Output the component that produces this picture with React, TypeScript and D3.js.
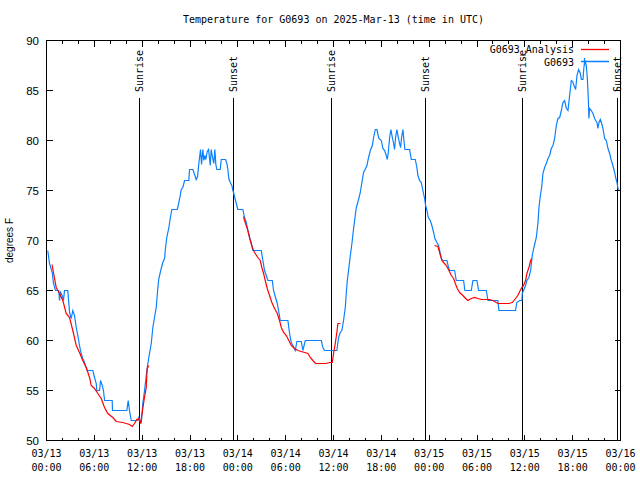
import React from "react";
import * as d3 from "d3";

// Observations (hours since 2025-03-13 00:00 UTC, °F)
const obsHours = [
  0.16, 0.38, 0.72, 0.88, 1.13, 1.54, 1.63, 1.76, 1.97, 2.13, 2.26, 2.67, 2.89, 3.1, 3.3, 3.51, 3.73, 3.93, 4.14, 4.35,
  4.55, 4.77, 4.98, 5.11, 5.81, 6.02, 6.24, 6.31, 6.65, 6.78, 6.99, 7.15, 7.28, 8.24, 8.28, 10.08, 10.25, 10.41, 10.63, 11.46,
  11.58, 11.88, 12.08, 12.3, 12.51, 12.71, 12.92, 13.14, 13.34, 13.55, 13.76, 13.96, 14.09, 14.39, 14.59, 14.81, 14.93, 15.09, 15.35, 15.52,
  15.72, 16.4, 16.6, 16.78, 16.9, 17.1, 17.32, 17.85, 17.94, 18.36, 18.57, 18.78, 18.95, 19.11, 19.32, 19.45, 19.61, 19.74, 19.86, 19.99,
  20.16, 20.33, 20.54, 20.66, 20.83, 20.99, 21.12, 21.24, 21.37, 21.79, 21.92, 22.46, 22.62, 22.75, 22.87, 23.05, 23.25, 23.38, 23.46, 23.71,
  24.0, 24.63, 24.84, 25.06, 25.26, 25.47, 25.68, 25.88, 26.94, 27.14, 27.35, 27.57, 27.77, 28.32, 28.48, 28.73, 28.95, 29.15, 29.32, 30.28,
  30.49, 30.7, 30.9, 31.2, 31.41, 31.96, 32.16, 32.46, 34.47, 34.67, 34.88, 36.42, 36.64, 36.85, 37.05, 37.26, 37.48, 37.6, 37.73, 37.93,
  38.11, 38.31, 38.52, 38.73, 38.86, 39.11, 39.36, 39.56, 39.77, 40.03, 40.19, 40.4, 40.62, 40.87, 41.03, 41.24, 41.44, 41.69, 42.0, 42.2,
  42.41, 42.62, 42.75, 42.87, 43.04, 43.2, 43.38, 43.54, 43.66, 43.79, 43.95, 44.13, 44.29, 44.42, 44.54, 44.71, 44.83, 44.96, 45.55, 45.67,
  45.76, 46.26, 46.46, 46.59, 46.8, 47.01, 47.21, 47.43, 47.55, 47.72, 47.89, 48.14, 48.34, 48.56, 48.72, 48.97, 49.18, 49.4, 49.52, 49.72,
  50.23, 50.4, 50.56, 51.19, 51.4, 52.32, 52.48, 53.28, 53.49, 53.99, 54.2, 55.17, 55.37, 56.62, 56.75, 58.83, 59.0, 59.34, 59.63, 59.68,
  59.84, 60.09, 60.26, 60.51, 60.73, 60.93, 61.14, 61.44, 61.65, 61.77, 61.95, 62.11, 62.27, 62.48, 62.7, 62.9, 63.11, 63.32, 63.53, 63.74,
  63.95, 64.15, 64.37, 64.58, 64.78, 64.99, 65.21, 65.41, 65.62, 65.83, 66.0, 66.16, 66.37, 66.54, 66.75, 66.96, 67.09, 67.29, 67.41, 67.54,
  67.71, 67.84, 67.97, 68.04, 68.13, 68.34, 68.54, 68.76, 68.88, 69.05, 69.17, 69.3, 69.47, 69.64, 69.8, 70.01, 70.22, 70.43, 70.64, 70.85,
  71.05, 71.27, 71.39, 71.56, 71.68, 71.81,
];
const obsTemps = [
  69, 67.7, 66.8, 65.7, 65, 65, 64, 64.8, 64.5, 64, 65, 65, 62.8, 62.2, 63, 62.5, 61.3, 60.5, 59.5, 58.7,
  58.2, 57.8, 57.3, 57, 57, 56.3, 55.7, 55, 55, 56, 55.5, 55, 54, 54, 53, 53, 54, 53, 52, 52,
  52.3, 51.7, 53.7, 55, 56.5, 57.7, 58.7, 59.7, 61.3, 62.3, 63.3, 65.2, 66.2, 67.2, 67.8, 68.2, 69.3, 70.3, 71.3, 72.2,
  73.1, 73.1, 73.8, 74.5, 75.1, 75.3, 76, 76, 77.1, 77.1, 76.6, 76.1, 76.4, 77.7, 79.1, 77.6, 79.1, 78, 78.5, 78.1,
  78.9, 79.1, 77.5, 79.1, 78.3, 77.7, 79.1, 77.6, 77.1, 77.1, 78.1, 78.1, 77.7, 77.1, 76.2, 75.8, 75.5, 75, 74.8, 74,
  73.1, 73.1, 72.3, 71.8, 71, 70.3, 69.8, 69, 69, 68, 67, 66.5, 66, 66, 65, 64.3, 63.7, 62.8, 62, 62,
  60.7, 59.8, 59.5, 59, 59.9, 59.9, 59, 60, 60, 59.3, 59, 59, 60.3, 60.8, 61, 62, 63.3, 64.7, 66, 67.3,
  68.5, 69.7, 71.2, 72.5, 73.3, 74, 74.8, 75.8, 76.8, 77.2, 77.5, 78.3, 79, 79.5, 80.3, 81.1, 81.1, 80.2, 80, 79.2,
  79, 78.5, 78.1, 78.8, 80.3, 81.1, 80.3, 79.7, 79.1, 80.3, 81.1, 80.3, 79.7, 79.3, 80.3, 81.1, 80, 79.1, 79.1, 78.5,
  78.1, 78.1, 77.3, 76.5, 76, 75.8, 75, 74.2, 73.5, 73, 72.3, 72, 71.5, 70.8, 70.2, 69.8, 69.5, 68.7, 68.2, 68,
  68, 67.4, 67, 67, 66, 66, 65, 65, 66, 66, 65, 65, 64, 64, 63, 63, 63.8, 64, 64, 64.7,
  65, 65.5, 66, 66.3, 67, 68.5, 69.3, 70.3, 71.8, 73.3, 74.5, 75.3, 76.7, 77.3, 77.7, 78.2, 78.5, 79.2, 79.5, 80.2,
  81.5, 82.2, 82.3, 83, 83.8, 84, 83.2, 83, 84.5, 86, 85.9, 85.5, 85.1, 86.5, 87.1, 86.7, 86.1, 86.1, 87.3, 88,
  87.5, 86.2, 84, 82.2, 83.2, 83, 82.7, 82.2, 82, 81.8, 81.2, 81.8, 82.1, 81.7, 81.2, 80.2, 80, 79.2, 78.7, 78,
  77.5, 76.8, 76.3, 75.8, 75.2, 75.1,
];

// Analysis (null separates the night-time runs)
const anaHours = [
  0.69, 1.22, 1.63, 2.05, 2.47, 2.89, 3.3, 3.73, 4.14, 4.55, 4.98, 5.4, 5.61, 6.02, 6.44, 6.86, 7.28, 7.69, 8.32, 8.75,
  9.57, 10.0, 10.41, 10.75, 11.04, 11.33, 11.58, 11.79, 12.01, 12.23, 12.51, 12.63, 12.84, null,
  24.72, 24.84, 25.26, 25.56, 25.82, 26.1, 26.51, 26.81, 27.01, 27.23, 27.44, 27.69, 27.98, 28.27, 28.61, 28.95, 29.23, 29.45, 29.74, 30.08,
  30.4, 30.7, 31.12, 31.53, 31.96, 32.37, 32.79, 33.09, 33.41, 33.75, 35.09, 35.51, 35.85, 36.01, 36.22, 36.42, 36.55, 36.89, null,
  48.68, 49.1, 49.31, 49.6, 49.81, 50.15, 50.48, 50.78, 51.07, 51.28, 51.53, 51.82, 52.23, 52.57, 52.86, 53.28, 53.7, 54.12, 54.54, 55.17,
  55.58, 56.0, 56.62, 57.25, 58.0, 58.43, 58.83, 59.12, 59.42, 59.62, 59.84, 60.09, 60.26, 60.51, 60.73, 60.85,
];
const anaTemps = [
  67.6, 65.3, 64.7, 64, 62.7, 62.3, 61, 59.5, 58.8, 58, 57.3, 56.3, 55.5, 55.2, 54.7, 54.2, 53.3, 52.7, 52.3, 51.9,
  51.8, 51.7, 51.6, 51.4, 51.7, 52.1, 52.2, 51.7, 52.8, 54, 55.3, 57.2, 57.5, null,
  72.4, 72, 71, 70, 69.3, 68.8, 68.3, 68, 67.3, 66.7, 66, 65.2, 64.5, 63.8, 63.2, 62.7, 62, 61.3, 60.8, 60.5,
  60, 59.5, 59.2, 59, 58.9, 58.8, 58.7, 58.3, 58, 57.7, 57.7, 57.8, 57.8, 58.7, 59.7, 60.8, 61.7, 61.7, null,
  69.5, 69.4, 68.8, 68, 67.8, 67.5, 67, 66.5, 66.2, 65.7, 65.2, 64.8, 64.5, 64.2, 64, 64.2, 64.3, 64.2, 64.1, 64.1,
  64.1, 64, 63.7, 63.7, 63.7, 63.8, 64.2, 64.5, 65, 65.3, 65.5, 66, 66.7, 67.3, 68, 68.2,
];

const sunriseHours = [11.67, 35.76, 59.72];
const sunsetHours = [23.46, 47.55, 71.58];
const yTicks = [50, 55, 60, 65, 70, 75, 80, 85, 90];
const title = "Temperature for G0693 on 2025-Mar-13 (time in UTC)";
const yLabel = "degrees F";
const seriesNames = ["G0693_Analysis", "G0693"];

const START = Date.UTC(2025, 2, 13);
const toDate = (h: number) => new Date(START + h * 3600000);

const MONO = "'DejaVu Sans Mono', monospace";
const SANS = "'Liberation Sans', Arial, sans-serif";
const BLUE = "#0a80ff";
const RED = "#ff0000";

export default function App() {
  const L = 46.5, R = 620.5, T = 40.5, B = 440.5;
  const x = d3.scaleUtc().domain([toDate(0), toDate(72)]).range([L, R]);
  const y = d3.scaleLinear().domain([50, 90]).range([B, T]);

  const majorTicks = x.ticks(d3.utcHour.every(6)!);
  const minorTicks = x.ticks(d3.utcHour.every(2)!);
  const fmtDay = d3.utcFormat("%m/%d");
  const fmtTime = d3.utcFormat("%H:%M");

  type P = { h: number | null; v: number | null };
  const obs: P[] = obsHours.map((h, i) => ({ h, v: obsTemps[i] }));
  const ana: P[] = anaHours.map((h, i) => ({ h, v: anaTemps[i] }));
  const line = d3
    .line<P>()
    .defined((d) => d.h != null && d.v != null)
    .x((d) => x(toDate(d.h as number)))
    .y((d) => y(d.v as number));

  const sunLines = [
    ...sunriseHours.map((h) => ({ h, label: "Sunrise" })),
    ...sunsetHours.map((h) => ({ h, label: "Sunset" })),
  ];

  return (
    <svg
      width={640}
      height={480}
      style={{ position: "absolute", left: 0, top: 0, background: "#fff" }}
    >
      <rect x={0} y={0} width={640} height={480} fill="#fff" />
      <defs>
        <clipPath id="plot">
          <rect x={L} y={T} width={R - L} height={B - T} />
        </clipPath>
      </defs>
      <text x={(L + R) / 2} y={23} textAnchor="middle" fontFamily={MONO} fontSize={10} fill="#000">
        {title}
      </text>

      {/* y ticks */}
      {yTicks.map((t) => (
        <g key={t} shapeRendering="crispEdges">
          <line x1={L} x2={L + 6} y1={Math.round(y(t) - 0.5) + 0.5} y2={Math.round(y(t) - 0.5) + 0.5} stroke="#000" />
          <line x1={R} x2={R - 6} y1={Math.round(y(t) - 0.5) + 0.5} y2={Math.round(y(t) - 0.5) + 0.5} stroke="#000" />
          <text x={39} y={y(t)} dy="0.36em" textAnchor="end" fontFamily={SANS} fontSize={11.5} fill="#000">
            {t}
          </text>
        </g>
      ))}

      {/* x ticks */}
      {minorTicks.map((d, i) => {
        const xx = Math.round(x(d) - 0.5) + 0.5;
        return (
          <g key={"m" + i} shapeRendering="crispEdges">
            <line x1={xx} x2={xx} y1={B} y2={B - 3} stroke="#000" />
            <line x1={xx} x2={xx} y1={T} y2={T + 3} stroke="#000" />
          </g>
        );
      })}
      {majorTicks.map((d, i) => {
        const xx = Math.round(x(d) - 0.5) + 0.5;
        return (
          <g key={"M" + i}>
            <line x1={xx} x2={xx} y1={B} y2={B - 6} stroke="#000" shapeRendering="crispEdges" />
            <line x1={xx} x2={xx} y1={T} y2={T + 6} stroke="#000" shapeRendering="crispEdges" />
            <text x={x(d)} y={457} textAnchor="middle" fontFamily={MONO} fontSize={10} fill="#000">
              {fmtDay(d)}
            </text>
            <text x={x(d)} y={471} textAnchor="middle" fontFamily={MONO} fontSize={10} fill="#000">
              {fmtTime(d)}
            </text>
          </g>
        );
      })}

      <text
        transform={`translate(13,${(T + B) / 2}) rotate(-90)`}
        textAnchor="middle"
        fontFamily={SANS}
        fontSize={10}
        fill="#000"
      >
        {yLabel}
      </text>

      {/* sunrise / sunset */}
      {sunLines.map((s, i) => {
        const xx = Math.round(x(toDate(s.h)) - 0.5) + 0.5;
        return (
          <g key={"s" + i}>
            <line x1={xx} x2={xx} y1={98} y2={B} stroke="#000" shapeRendering="crispEdges" />
            <text
              transform={`translate(${xx},92) rotate(-90)`}
              dy="0.36em"
              textAnchor="start"
              fontFamily={MONO}
              fontSize={10}
              fill="#000"
            >
              {s.label}
            </text>
          </g>
        );
      })}

      {/* data */}
      <g clipPath="url(#plot)">
        <path d={line(obs) || ""} fill="none" stroke={BLUE} strokeWidth={1.2} />
        <path d={line(ana) || ""} fill="none" stroke={RED} strokeWidth={1.2} />
      </g>

      {/* legend */}
      <text x={574} y={53} textAnchor="end" fontFamily={MONO} fontSize={10} fill="#000">{seriesNames[0]}</text>
      <path d="M581,49.5H609" fill="none" stroke={RED} strokeWidth={1.3} />
      <text x={574} y={66} textAnchor="end" fontFamily={MONO} fontSize={10} fill="#000">{seriesNames[1]}</text>
      <path d="M581,61.5H609M584.5,58V65" fill="none" stroke={BLUE} strokeWidth={1.3} />

      {/* frame */}
      <rect x={L} y={T} width={R - L} height={B - T} fill="none" stroke="#000" shapeRendering="crispEdges" />
    </svg>
  );
}
